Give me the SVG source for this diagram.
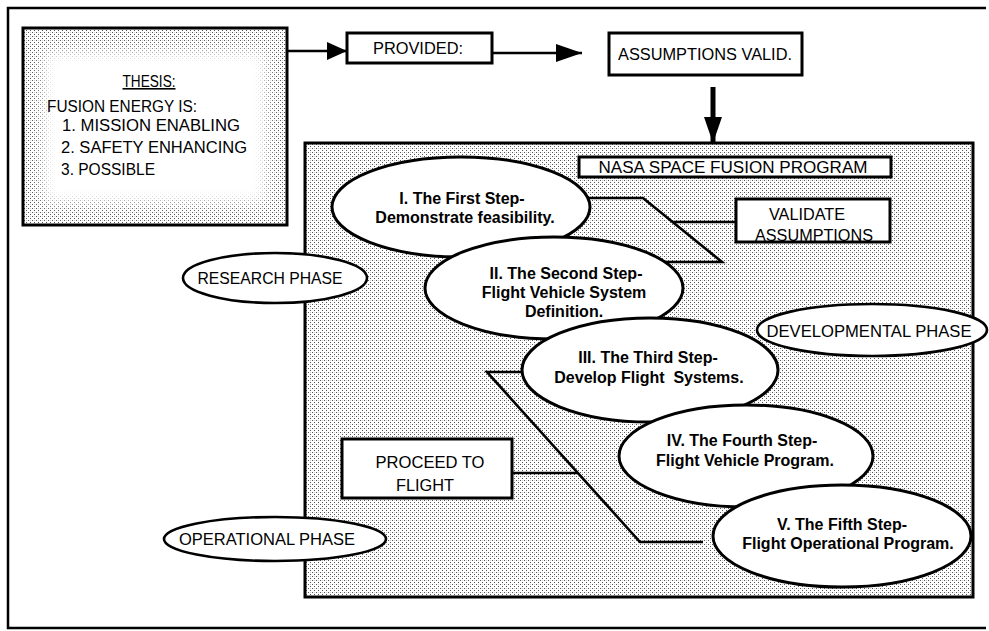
<svg xmlns="http://www.w3.org/2000/svg" width="989" height="631" viewBox="0 0 989 631">
  <style>
    .box { fill: #fff; stroke: #000; stroke-width: 3; }
    .shade { fill: url(#stipple); stroke: #000; stroke-width: 3; }
    .step { fill: #fff; stroke: #000; stroke-width: 3; }
    .phase { fill: #fff; stroke: #000; stroke-width: 2.6; }
    .line { fill: none; stroke: #000; stroke-width: 2.6; stroke-linejoin: miter; }
    .cap { font-family: "Liberation Sans", Arial, sans-serif; font-size: 16px; fill: #000; }
    .stxt { font-family: "Liberation Sans", Arial, sans-serif; font-size: 16px; font-weight: bold; fill: #000; text-anchor: middle; }
    .mid { text-anchor: middle; }
  </style>
  <defs>
    <pattern id="stipple" width="4" height="4" patternUnits="userSpaceOnUse">
      <rect width="4" height="4" fill="#fff"/>
      <rect x="0" y="0" width="1" height="1" fill="#555"/>
      <rect x="2" y="2" width="1" height="1" fill="#555"/>
      <rect x="2" y="0" width="1" height="1" fill="#d0d0d0"/>
    </pattern>
    <filter id="soft" x="-20%" y="-20%" width="140%" height="140%">
      <feGaussianBlur stdDeviation="7"/>
    </filter>
    <marker id="head" viewBox="0 0 20 18" refX="20" refY="9" markerWidth="20" markerHeight="18" markerUnits="userSpaceOnUse" orient="auto">
      <path d="M0,0 L20,9 L0,18 Z" fill="#000"/>
    </marker>
    <marker id="bighead" viewBox="0 0 26 18" refX="26" refY="9" markerWidth="26" markerHeight="18" markerUnits="userSpaceOnUse" orient="auto">
      <path d="M0,0 L26,9 L0,18 Z" fill="#000"/>
    </marker>
  </defs>

  <rect width="989" height="631" fill="#fff"/>

  <!-- page frame (open on the right) -->
  <path d="M986,8 H8 V628 H986" fill="none" stroke="#000" stroke-width="2.5"/>

  <!-- program area -->
  <g id="program">
    <rect class="shade" x="305" y="143" width="668" height="454"/>
  </g>

  <!-- thesis panel -->
  <g id="thesis">
    <rect class="shade" x="23" y="28" width="264" height="197"/>
    <rect x="44" y="52" width="222" height="150" fill="#fff" filter="url(#soft)"/>
    <text class="cap mid" x="149" y="87" textLength="53" lengthAdjust="spacingAndGlyphs" text-decoration="underline">THESIS:</text>
    <text class="cap" x="47" y="112" textLength="150" lengthAdjust="spacingAndGlyphs">FUSION ENERGY IS:</text>
    <text class="cap" x="62" y="131" textLength="178" lengthAdjust="spacingAndGlyphs">1. MISSION ENABLING</text>
    <text class="cap" x="61" y="153" textLength="186" lengthAdjust="spacingAndGlyphs">2. SAFETY ENHANCING</text>
    <text class="cap" x="61" y="175" textLength="94" lengthAdjust="spacingAndGlyphs">3. POSSIBLE</text>
  </g>

  <!-- connectors -->
  <g id="connectors">
    <line class="line" x1="287" y1="51" x2="347" y2="51" marker-end="url(#head)"/>
    <line class="line" x1="492" y1="53" x2="582" y2="53" marker-end="url(#bighead)"/>
    <line x1="713" y1="87" x2="713" y2="143" stroke="#000" stroke-width="5" marker-end="url(#bighead)"/>
    <!-- bracket: steps I-II to validation -->
    <polyline class="line" points="585,198 643,198 722,262 655,262"/>
    <line class="line" x1="673" y1="222" x2="736" y2="222"/>
    <!-- bracket: steps III-V to flight -->
    <polyline class="line" points="530,372 487,372 640,542 703,542"/>
    <line class="line" x1="512" y1="473" x2="578" y2="473"/>
  </g>

  <g id="provided">
    <rect class="box" x="347" y="33" width="145" height="30"/>
    <text class="cap mid" x="418" y="54" textLength="90" lengthAdjust="spacingAndGlyphs">PROVIDED:</text>
  </g>

  <g id="assumptions-valid">
    <rect class="box" x="609" y="33" width="193" height="42"/>
    <text class="cap mid" x="705" y="60" textLength="174" lengthAdjust="spacingAndGlyphs">ASSUMPTIONS VALID.</text>
  </g>

  <g id="program-title">
    <rect class="box" x="579" y="157" width="312" height="20"/>
    <text class="cap mid" x="733" y="173" textLength="269" lengthAdjust="spacingAndGlyphs">NASA SPACE FUSION PROGRAM</text>
  </g>

  <g id="validate">
    <rect class="box" x="736" y="199" width="154" height="43"/>
    <text class="cap mid" x="807" y="220" textLength="76" lengthAdjust="spacingAndGlyphs">VALIDATE</text>
    <text class="cap mid" x="814" y="241" textLength="118" lengthAdjust="spacingAndGlyphs">ASSUMPTIONS</text>
  </g>

  <g id="proceed">
    <rect class="box" x="342" y="439" width="170" height="59"/>
    <text class="cap mid" x="430" y="468" textLength="109" lengthAdjust="spacingAndGlyphs">PROCEED TO</text>
    <text class="cap mid" x="425" y="491" textLength="58" lengthAdjust="spacingAndGlyphs">FLIGHT</text>
  </g>

  <g id="step1">
    <ellipse class="step" cx="461" cy="207" rx="129" ry="50"/>
    <text class="stxt" x="462" y="204">I. The First Step-</text>
    <text class="stxt" x="465" y="223">Demonstrate feasibility.</text>
  </g>

  <g id="step2">
    <ellipse class="step" cx="554" cy="288" rx="129" ry="51"/>
    <text class="stxt" x="566" y="279">II. The Second Step-</text>
    <text class="stxt" x="564" y="298">Flight Vehicle System</text>
    <text class="stxt" x="564" y="317">Definition.</text>
  </g>

  <g id="step3">
    <ellipse class="step" cx="650" cy="370" rx="128" ry="52"/>
    <text class="stxt" x="648" y="363">III. The Third Step-</text>
    <text class="stxt" x="649" y="383" xml:space="preserve">Develop Flight  Systems.</text>
  </g>

  <g id="step4">
    <ellipse class="step" cx="746" cy="456" rx="127" ry="51"/>
    <text class="stxt" x="742" y="446">IV. The Fourth Step-</text>
    <text class="stxt" x="745" y="466">Flight Vehicle Program.</text>
  </g>

  <g id="step5">
    <ellipse class="step" cx="842" cy="536" rx="129" ry="51"/>
    <text class="stxt" x="842" y="530">V. The Fifth Step-</text>
    <text class="stxt" x="848" y="549">Flight Operational Program.</text>
  </g>

  <g id="research-phase">
    <ellipse class="phase" cx="275" cy="278" rx="92" ry="25"/>
    <text class="cap mid" x="270" y="284" textLength="145" lengthAdjust="spacingAndGlyphs">RESEARCH PHASE</text>
  </g>

  <g id="developmental-phase">
    <ellipse class="phase" cx="872" cy="330" rx="115" ry="26"/>
    <text class="cap mid" x="869" y="337" textLength="205" lengthAdjust="spacingAndGlyphs">DEVELOPMENTAL PHASE</text>
  </g>

  <g id="operational-phase">
    <ellipse class="phase" cx="275" cy="539" rx="111" ry="22"/>
    <text class="cap mid" x="267" y="545" textLength="176" lengthAdjust="spacingAndGlyphs">OPERATIONAL PHASE</text>
  </g>
</svg>
